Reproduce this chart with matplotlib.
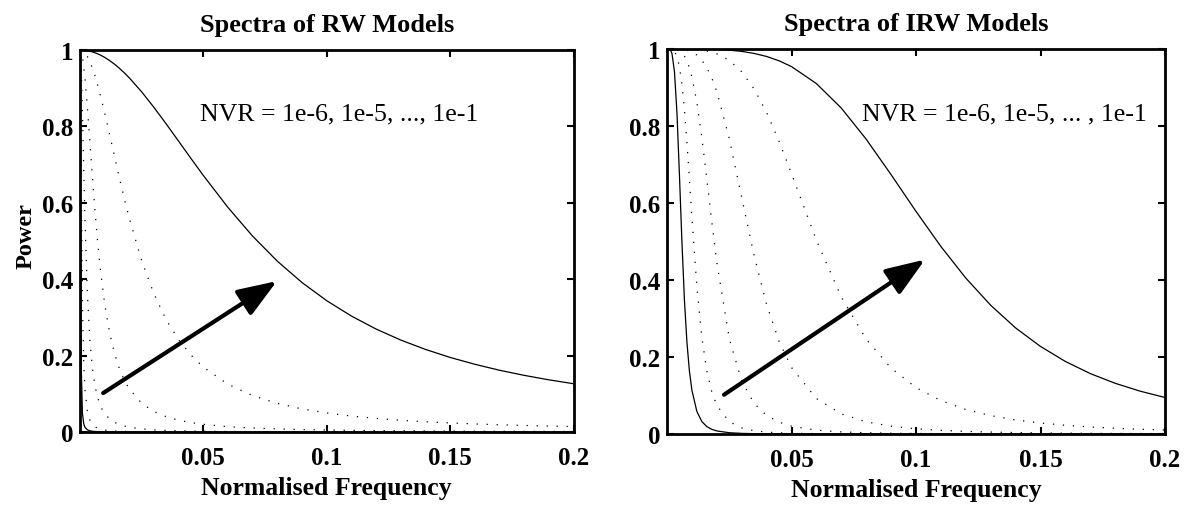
import matplotlib
matplotlib.use("Agg")
import matplotlib.pyplot as plt
from matplotlib.patches import ArrowStyle

plt.rcParams['font.family'] = ['Liberation Serif', 'DejaVu Serif']

# Normalised frequency grid (shared by both panels)
freq = [0, 0.0005, 0.001, 0.0015, 0.002, 0.003, 0.004, 0.005, 0.006, 0.007,
        0.008, 0.009, 0.01, 0.012, 0.014, 0.016, 0.018, 0.02, 0.025, 0.03,
        0.035, 0.04, 0.045, 0.05, 0.06, 0.07, 0.08, 0.09, 0.1, 0.11,
        0.12, 0.13, 0.14, 0.15, 0.16, 0.17, 0.18, 0.19, 0.2]

# RW model spectra, NVR = 1e-6 ... 1e-1
rw_1e6 = [1, 0.168, 0.048, 0.022, 0.0125, 0.0056, 0.0032, 0.002, 0.0014, 0.001,
          0.0008, 0.0006, 0.0005, 0.0004, 0.0003, 0.0002, 0.0002, 0.0001, 0.0001, 0.0001,
          0, 0, 0, 0, 0, 0, 0, 0, 0, 0,
          0, 0, 0, 0, 0, 0, 0, 0, 0]
rw_1e5 = [1, 0.670, 0.336, 0.184, 0.112, 0.053, 0.031, 0.020, 0.0139, 0.0102,
          0.0079, 0.0062, 0.005, 0.0035, 0.0026, 0.002, 0.0016, 0.0013, 0.0008, 0.0006,
          0.0004, 0.0003, 0.0003, 0.0002, 0.0001, 0.0001, 0.0001, 0, 0, 0,
          0, 0, 0, 0, 0, 0, 0, 0, 0]
rw_1e4 = [1, 0.953, 0.835, 0.692, 0.559, 0.360, 0.2405, 0.1685, 0.1234, 0.0937,
          0.0734, 0.0589, 0.0482, 0.034, 0.0252, 0.0194, 0.0154, 0.0125, 0.0081, 0.0056,
          0.0041, 0.0032, 0.0025, 0.002, 0.0014, 0.0011, 0.0008, 0.0006, 0.0005, 0.0004,
          0.0004, 0.0003, 0.0003, 0.0002, 0.0002, 0.0002, 0.0002, 0.0002, 0.0001]
rw_1e3 = [1, 0.995, 0.981, 0.957, 0.927, 0.849, 0.760, 0.670, 0.585, 0.508,
          0.442, 0.3848, 0.336, 0.260, 0.205, 0.165, 0.135, 0.1125, 0.0751, 0.0534,
          0.0399, 0.0308, 0.0246, 0.0200, 0.0140, 0.0104, 0.0080, 0.0064, 0.0052, 0.0043,
          0.0037, 0.0032, 0.0028, 0.0024, 0.0021, 0.0019, 0.0017, 0.0016, 0.0014]
rw_1e2 = [1, 0.9995, 0.998, 0.9956, 0.992, 0.983, 0.969, 0.953, 0.934, 0.912,
          0.888, 0.8622, 0.835, 0.779, 0.721, 0.664, 0.610, 0.559, 0.448, 0.361,
          0.293, 0.2414, 0.2012, 0.1697, 0.1247, 0.0951, 0.0748, 0.0604, 0.0498, 0.0418,
          0.0356, 0.0307, 0.0268, 0.0237, 0.0211, 0.0189, 0.0171, 0.0156, 0.0143]
rw_1e1 = [1, 1.0, 0.9998, 0.9996, 0.9992, 0.9982, 0.9968, 0.9951, 0.9929, 0.9904,
          0.9875, 0.9843, 0.9806, 0.9724, 0.9628, 0.9519, 0.940, 0.9269, 0.8904, 0.8495,
          0.8059, 0.7609, 0.7158, 0.6714, 0.5875, 0.5124, 0.4470, 0.3911, 0.3437, 0.3035,
          0.2695, 0.2407, 0.2162, 0.1952, 0.1773, 0.1617, 0.1483, 0.1366, 0.1264]

# IRW model spectra, NVR = 1e-6 ... 1e-1
irw_1e6 = [1, 1.0, 0.9992, 0.996, 0.988, 0.941, 0.834, 0.672, 0.498, 0.348,
           0.2386, 0.1636, 0.1137, 0.0583, 0.0323, 0.0192, 0.0121, 0.0080, 0.0033, 0.0016,
           0.0009, 0.0005, 0.0003, 0.0002, 0, 0, 0, 0, 0, 0,
           0, 0, 0, 0, 0, 0, 0, 0, 0]
irw_1e5 = [1, 1, 1, 0.9996, 0.9988, 0.9937, 0.9804, 0.9536, 0.9083, 0.8424,
           0.758, 0.6617, 0.562, 0.3823, 0.2505, 0.1638, 0.1092, 0.0744, 0.0319, 0.0157,
           0.0085, 0.0050, 0.0032, 0.0021, 0.001, 0.0006, 0.0003, 0.0002, 0.0001, 0,
           0, 0, 0, 0, 0, 0, 0, 0, 0]
irw_1e4 = [1, 1, 1, 1, 0.9999, 0.9994, 0.998, 0.9952, 0.990, 0.9816,
           0.969, 0.9514, 0.9277, 0.861, 0.770, 0.662, 0.551, 0.4457, 0.248, 0.1375,
           0.0794, 0.0482, 0.0307, 0.0204, 0.010, 0.0055, 0.0033, 0.0021, 0.0014, 0.0009,
           0.0007, 0.0005, 0.0004, 0.0003, 0.0002, 0.0002, 0.0002, 0.0001, 0.0001]
irw_1e3 = [1, 1, 1, 1, 1, 0.9999, 0.9998, 0.9995, 0.999, 0.9981,
           0.9968, 0.9949, 0.9923, 0.9841, 0.971, 0.9514, 0.9246, 0.8894, 0.7674, 0.6144,
           0.463, 0.3362, 0.2408, 0.1727, 0.0921, 0.0523, 0.0316, 0.0202, 0.0135, 0.0094,
           0.0068, 0.0050, 0.0038, 0.0029, 0.0023, 0.0019, 0.0015, 0.0013, 0.0010]
irw_1e2 = [1, 1, 1, 1, 1, 1, 1, 1.0, 0.9999, 0.9998,
           0.9997, 0.9995, 0.9992, 0.9984, 0.997, 0.9949, 0.9919, 0.9877, 0.9706, 0.941,
           0.896, 0.8351, 0.7603, 0.6761, 0.5034, 0.3557, 0.2463, 0.171, 0.1206, 0.0867,
           0.0637, 0.0478, 0.0366, 0.0286, 0.0227, 0.0183, 0.0149, 0.0124, 0.0104]
irw_1e1 = [1, 1, 1, 1, 1, 1, 1, 1, 1, 1,
           1, 1, 0.9999, 0.9998, 0.9997, 0.9995, 0.9992, 0.9988, 0.997, 0.9938,
           0.9885, 0.9806, 0.9694, 0.9543, 0.9102, 0.8466, 0.7657, 0.6736, 0.5782, 0.487,
           0.405, 0.3344, 0.2755, 0.2274, 0.1884, 0.1569, 0.1317, 0.1113, 0.0948]

titles = ["Spectra of RW Models", "Spectra of IRW Models"]
notes = ["NVR = 1e-6, 1e-5, ..., 1e-1", "NVR = 1e-6, 1e-5, ... , 1e-1"]
xticks = [0.05, 0.1, 0.15, 0.2]
xticklabels = ["0.05", "0.1", "0.15", "0.2"]
yticks = [0, 0.2, 0.4, 0.6, 0.8, 1]
yticklabels = ["0", "0.2", "0.4", "0.6", "0.8", "1"]

fig = plt.figure(figsize=(11.9, 5.06), dpi=100)
ax1 = fig.add_axes([80 / 1190, (506 - 433) / 506, (573.5 - 80) / 1190, (433 - 51) / 506])
ax2 = fig.add_axes([667 / 1190, (506 - 435) / 506, (1165 - 667) / 1190, (435 - 50) / 506])

dot = (0, (1, 7))
panels = [
    (ax1, [rw_1e6, rw_1e5, rw_1e4, rw_1e3, rw_1e2, rw_1e1], (0.0094, 0.102), (0.0798, 0.395), (0.0488, 0.818)),
    (ax2, [irw_1e6, irw_1e5, irw_1e4, irw_1e3, irw_1e2, irw_1e1], (0.0229, 0.102), (0.1036, 0.453), (0.0783, 0.818)),
]

for i, (ax, curves, tail, tip, txt) in enumerate(panels):
    for j, c in enumerate(curves):
        if j == 0 or j == len(curves) - 1:
            ax.plot(freq, c, color='black', lw=0.9, solid_capstyle='butt')
        else:
            ax.plot(freq, c, color='black', lw=0.9, linestyle=dot)
    ax.set_xlim(0, 0.2)
    ax.set_ylim(0, 1)
    ax.set_xticks(xticks)
    ax.set_xticklabels(xticklabels)
    ax.set_yticks(yticks)
    ax.set_yticklabels(yticklabels)
    for lab in ax.get_xticklabels() + ax.get_yticklabels():
        lab.set_fontweight('bold')
    ax.tick_params(direction='in', length=5, width=1.5, top=True, right=True,
                   labelsize=18)
    ax.tick_params(axis='x', pad=10)
    ax.tick_params(axis='y', pad=5)
    for sp in ax.spines.values():
        sp.set_linewidth(2)
    ax.set_title(titles[i], fontsize=19, fontweight='bold', pad=14)
    ax.set_xlabel("Normalised Frequency", fontsize=18.5, fontweight='bold', labelpad=5)
    ax.text(txt[0], txt[1], notes[i], fontsize=18.6, va='baseline', ha='left')
    ax.annotate("", xy=tip, xytext=tail,
                arrowprops=dict(arrowstyle=ArrowStyle('-|>', head_length=1.6, head_width=0.6),
                                mutation_scale=15, lw=3, color='black',
                                shrinkA=0, shrinkB=0))

ax1.set_ylabel("Power", fontsize=17.5, fontweight='bold')
ax1.yaxis.set_label_coords(-0.0877, 0.516)

fig.savefig("out.png", dpi=100)
